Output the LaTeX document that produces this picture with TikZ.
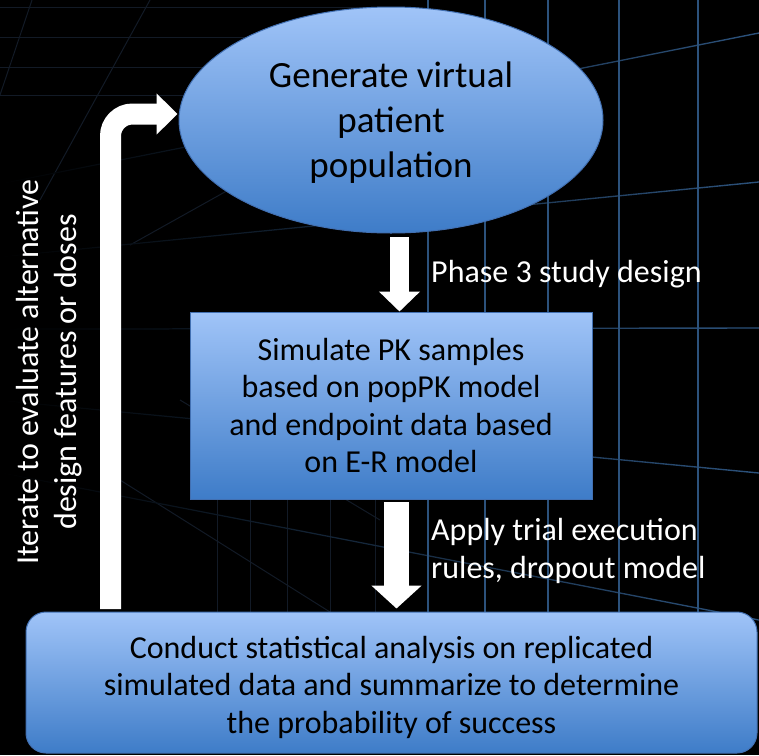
\documentclass[tikz,border=0pt]{standalone}
\usepackage{fontspec}
\setmainfont{Carlito}
\usetikzlibrary{shapes.geometric,arrows.meta,calc}
\definecolor{boxtop}{RGB}{160,196,248}
\definecolor{boxbot}{RGB}{62,124,200}
\definecolor{boxline}{RGB}{66,112,178}
\definecolor{gridbright}{RGB}{44,82,124}
\definecolor{griddim}{RGB}{18,26,38}

\begin{document}
\begin{tikzpicture}[x=1pt,y=-1pt,
  shapebox/.style={draw=boxline, line width=1pt, top color=boxtop, bottom color=boxbot,
    text=black, align=center, inner sep=0pt},
  bodytext/.style={font=\fontsize{32}{37.5}\selectfont},
  labeltext/.style={text=white, align=left, inner sep=0pt, font=\fontsize{32}{38}\selectfont},
  fatarrow/.style={draw=white, line width=#1},
  gridline/.style={draw=gridbright, line width=1.1pt},
  faintline/.style={draw=griddim, line width=1pt}
]
% backdrop
\fill[black] (0,0) rectangle (759,755);
\useasboundingbox (0,0) rectangle (759,755);

% faint ceiling grid on the left
\foreach \yy in {7,37,67,95} \draw[faintline] (0,\yy) -- (380,\yy);
\draw[faintline] (0,95) -- (32,0);
\draw[faintline] (40,200) -- (150,0);
\draw[faintline] (130,245) -- (300,150);
\foreach \xx in {217,250,287,330,375} \draw[faintline] (\xx,380) -- (\xx,612);
\draw[faintline] (120,480) -- (330,612);
\draw[faintline] (180,400) -- (380,520);

% receding wall lines, fading towards the left
\foreach \yl/\yr in {164/33, 247/182, 329/328, 410/473, 492/620}{
  \shade[left color=black, right color=gridbright]
    (0,{\yl+(330-\yl)*0.12-0.6}) -- (759,\yr-0.7) -- (759,\yr+0.7) -- (0,{\yl+(330-\yl)*0.12+0.6}) -- cycle;
}
% vertical wall lines
\foreach \xx in {428,485,548,619,698} \draw[gridline] (\xx,0) -- (\xx,612);

% process shapes
\node[shapebox, ellipse, minimum width=424pt, minimum height=226pt,
      font=\fontsize{37}{45}\selectfont] (gen) at (391,120)
  {\rule{0pt}{31pt}Generate virtual\\patient\\population};

\node[shapebox, rectangle, minimum width=402pt, minimum height=187pt, bodytext] (sim) at (391,405.5)
  {Simulate PK samples\\based on popPK model\\and endpoint data based\\on E-R model};

\node[shapebox, rectangle, rounded corners=20pt, minimum width=731pt, minimum height=141pt, bodytext] (cond) at (391.5,682.5)
  {\rule{0pt}{32pt}Conduct statistical analysis on replicated\\simulated data and summarize to determine\\the probability of success};

% connectors
\coordinate (a1) at (399.5,237);
\coordinate (a2) at (396.5,502);
\coordinate (lp) at (110.5,609);
\coordinate (lt) at ($(gen.west)+(-1,-6)$);

\draw[fatarrow=19pt, -{Triangle[width=40pt,length=20pt]}] (a1) -- (a1 |- sim.north);
\draw[fatarrow=25pt, -{Triangle[width=49pt,length=23pt]}] (a2) -- ($(a2 |- cond.north)+(0,-3)$);
\draw[fatarrow=21pt, rounded corners=22pt, -{Triangle[width=40pt,length=21pt]}] (lp) |- (lt);

% labels
\node[labeltext, anchor=base west] (lab1) at (431,282) {Phase 3 study design};
\node[labeltext, anchor=north west] (lab2) at (431,518) {Apply trial execution\\rules, dropout model};
\node[labeltext, align=center, rotate=90, font=\fontsize{32}{38}\selectfont] (lab3) at (49,372)
  {Iterate to evaluate alternative\\design features or doses};
\end{tikzpicture}
\end{document}
